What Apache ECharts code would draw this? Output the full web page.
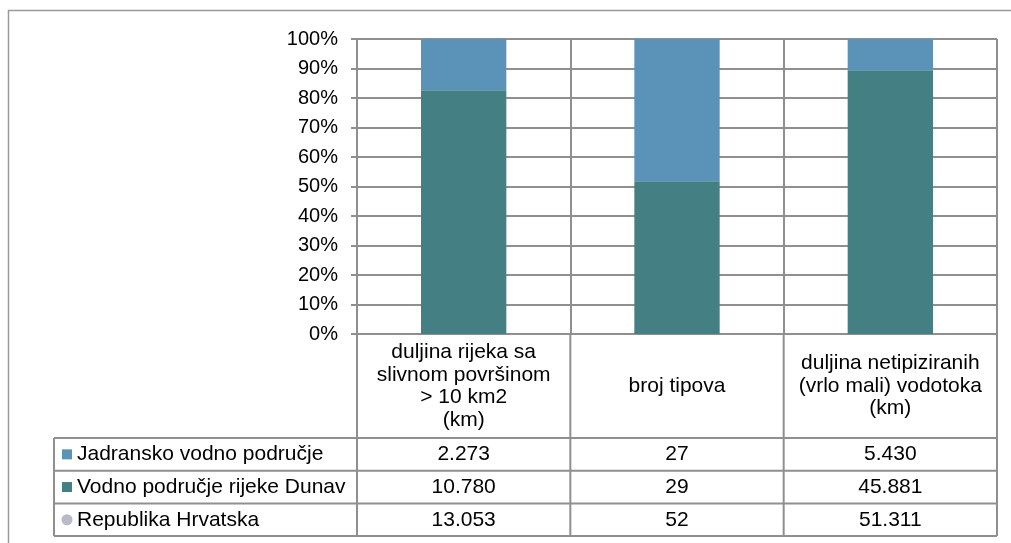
<!DOCTYPE html>
<html>
<head>
<meta charset="utf-8">
<script src="https://cdn.jsdelivr.net/npm/echarts@6/dist/echarts.min.js"></script>
<style>
  html, body { margin: 0; padding: 0; background: #fff; }
  #chart { width: 1011px; height: 543px; }
</style>
</head>
<body>
<div id="chart"></div>
<script>
// podaci
const categories = [
  'duljina rijeka sa\nslivnom površinom\n> 10 km2\n(km)',
  'broj tipova',
  'duljina netipiziranih\n(vrlo mali) vodotoka\n(km)'
];
const seriesNames = ['Jadransko vodno područje', 'Vodno područje rijeke Dunav', 'Republika Hrvatska'];
const jadransko = [2273, 27, 5430];
const dunav = [10780, 29, 45881];
const hrvatska = [13053, 52, 51311];
const yTicks = [0, 10, 20, 30, 40, 50, 60, 70, 80, 90, 100];

const COLORS = ['#5b92b7', '#437f83', '#b9b9c9'];
const LINE = '#8f8f8f';
const FONT = '"Liberation Sans", Arial, sans-serif';

// udio u 100% stupcu
const total = jadransko.map((v, i) => v + dunav[i]);
const jadPct = jadransko.map((v, i) => v / total[i] * 100);
const dunPct = dunav.map((v, i) => v / total[i] * 100);

// hrvatski format broja (točka kao separator tisućica)
const fmt = v => String(v).replace(/\B(?=(\d{3})+(?!\d))/g, '.');

// raspored
const G = { left: 357, right: 997, top: 39, bottom: 334 };
const TABLE_LEFT = 54;
const HEADER_BOTTOM = 438;
const ROW_H = 32.7;

const chart = echarts.init(document.getElementById('chart'), null, { renderer: 'canvas' });

function tableGraphics() {
  const els = [];
  const colW = (G.right - G.left) / categories.length;
  const tableBottom = HEADER_BOTTOM + ROW_H * 3;
  const line = (x1, y1, x2, y2) => ({
    type: 'line', silent: true,
    shape: { x1, y1, x2, y2 },
    style: { stroke: LINE, lineWidth: 2 }
  });

  // okvir grafikona (odrezan desno i dolje)
  els.push({
    type: 'rect', silent: true,
    shape: { x: 8.5, y: 10.5, width: 1200, height: 700 },
    style: { fill: null, stroke: '#9a9a9a', lineWidth: 1.5 }
  });

  // okomite linije tablice
  for (let i = 0; i <= categories.length; i++) {
    const x = G.left + colW * i;
    els.push(line(x, G.bottom, x, tableBottom));
  }
  els.push(line(G.right, G.top, G.right, G.bottom));
  els.push(line(TABLE_LEFT, HEADER_BOTTOM, TABLE_LEFT, tableBottom));
  // vodoravne linije tablice
  for (let r = 0; r <= 3; r++) {
    const y = HEADER_BOTTOM + ROW_H * r;
    els.push(line(TABLE_LEFT, y, G.right, y));
  }

  const rows = [jadransko, dunav, hrvatska];
  rows.forEach((vals, r) => {
    const cy = HEADER_BOTTOM + ROW_H * r + ROW_H / 2;
    // oznaka legende
    if (r < 2) {
      els.push({ type: 'rect', silent: true, shape: { x: 62, y: cy - 5, width: 10, height: 10 }, style: { fill: COLORS[r] } });
    } else {
      els.push({ type: 'circle', silent: true, shape: { cx: 67, cy: cy, r: 5.5 }, style: { fill: COLORS[r] } });
    }
    els.push({
      type: 'text', silent: true,
      style: { x: 77, y: cy, text: seriesNames[r], fill: '#000', font: '21px ' + FONT, verticalAlign: 'middle', align: 'left' }
    });
    vals.forEach((v, c) => {
      els.push({
        type: 'text', silent: true,
        style: { x: G.left + colW * c + colW / 2, y: cy, text: fmt(v), fill: '#000', font: '21px ' + FONT, verticalAlign: 'middle', align: 'center' }
      });
    });
  });
  return els;
}

const option = {
  backgroundColor: '#fff',
  animation: false,
  grid: {
    left: G.left, right: 1011 - G.right, top: G.top, bottom: 543 - G.bottom,
    containLabel: false
  },
  xAxis: {
    type: 'category',
    data: categories,
    axisLine: { show: true, lineStyle: { color: LINE, width: 2 } },
    axisTick: { show: false },
    axisLabel: {
      color: '#000', fontFamily: FONT, fontSize: 21, lineHeight: 22.5,
      verticalAlign: 'middle', align: 'center', margin: 52, interval: 0
    },
    splitLine: { show: true, interval: 0, lineStyle: { color: LINE, width: 2 } }
  },
  yAxis: {
    type: 'value',
    min: yTicks[0], max: yTicks[yTicks.length - 1], interval: yTicks[1] - yTicks[0],
    axisLine: { show: true, lineStyle: { color: LINE, width: 2 } },
    axisTick: { show: true, length: 6, lineStyle: { color: LINE, width: 2 } },
    axisLabel: { formatter: '{value}%', color: '#000', fontFamily: FONT, fontSize: 20, margin: 19 },
    splitLine: { show: true, lineStyle: { color: LINE, width: 2 } }
  },
  series: [
    {
      name: seriesNames[1], type: 'bar', stack: 'udio', barWidth: '40%',
      data: dunPct, itemStyle: { color: COLORS[1] }
    },
    {
      name: seriesNames[0], type: 'bar', stack: 'udio', barWidth: '40%',
      data: jadPct, itemStyle: { color: COLORS[0] }
    }
  ],
  graphic: tableGraphics()
};

chart.setOption(option);
</script>
</body>
</html>
